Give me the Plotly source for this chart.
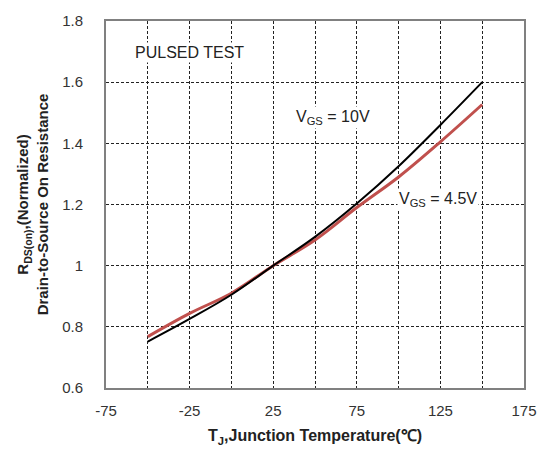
import plotly.graph_objects as go

temps = [-50, -25, 0, 25, 50, 75, 100, 125, 150]
rds_10v = [0.752, 0.826, 0.905, 1.0, 1.094, 1.203, 1.325, 1.46, 1.60]
rds_45v = [0.768, 0.844, 0.91, 1.0, 1.084, 1.19, 1.29, 1.405, 1.527]

x_ticks = [-75, -25, 25, 75, 125, 175]
x_tick_text = ["-75", "-25", "25", "75", "125", "175"]
y_ticks = [0.6, 0.8, 1.0, 1.2, 1.4, 1.6, 1.8]
y_tick_text = ["0.6", "0.8", "1", "1.2", "1.4", "1.6", "1.8"]

fig = go.Figure()
fig.add_trace(go.Scatter(x=temps, y=rds_45v, mode="lines",
                         line=dict(color="#c0504d", width=3, shape="spline"),
                         showlegend=False))
fig.add_trace(go.Scatter(x=temps, y=rds_10v, mode="lines",
                         line=dict(color="#000000", width=2, shape="spline"),
                         showlegend=False))

font_fam = "Liberation Sans, Arial, sans-serif"
grid_col = "#222222"

fig.update_xaxes(range=[-75, 175], tickvals=x_ticks, ticktext=x_tick_text, showgrid=True,
                 gridcolor=grid_col, gridwidth=1, griddash="3px,2px",
                 minor=dict(dtick=25, tick0=-75, showgrid=True, gridcolor=grid_col,
                            gridwidth=1, griddash="3px,2px"),
                 showline=True, linecolor="#808080", linewidth=2, mirror=True,
                 ticks="", ticklabelstandoff=8, zeroline=False,
                 tickfont=dict(family=font_fam, size=15, color="#333333"),
                 title=dict(text="<b>T<sub>J</sub>,Junction Temperature(℃)</b>",
                            font=dict(family=font_fam, size=16, color="#222222"),
                            standoff=12))
fig.update_yaxes(range=[0.6, 1.8], tickvals=y_ticks, ticktext=y_tick_text, showgrid=True,
                 gridcolor=grid_col, gridwidth=1, griddash="3px,2px",
                 showline=True, linecolor="#808080", linewidth=2, mirror=True,
                 ticks="", ticklabelstandoff=18, zeroline=False,
                 tickfont=dict(family=font_fam, size=15, color="#333333"),
                 title=dict(text="<b>R<sub>DS(on)</sub>,(Normalized)<br>Drain-to-Source On Resistance</b>",
                            font=dict(family=font_fam, size=15, color="#222222"),
                            standoff=10))

ann_font = dict(family=font_fam, size=16, color="#222222")
fig.add_annotation(x=-25, y=1.697, text="PULSED TEST", showarrow=False,
                   font=ann_font, bgcolor="white")
fig.add_annotation(x=60.5, y=1.485, text="V<sub>GS</sub> = 10V", showarrow=False,
                   font=ann_font, bgcolor="white")
fig.add_annotation(x=123.3, y=1.216, text="V<sub>GS</sub> = 4.5V", showarrow=False,
                   font=ann_font, bgcolor="white")

fig.update_layout(width=549, height=454, margin=dict(l=106, r=13, t=20, b=60),
                  plot_bgcolor="white", paper_bgcolor="white")

fig.write_html("out.html")
